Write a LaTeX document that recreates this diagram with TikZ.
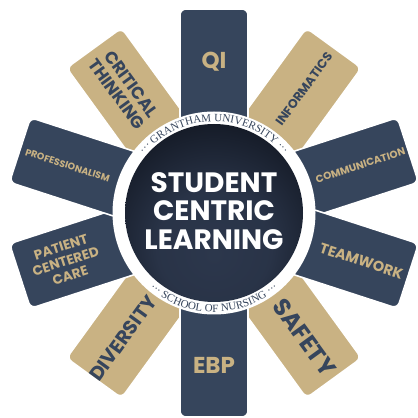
\documentclass[tikz,border=0pt]{standalone}
\usepackage{fontspec}
\setmainfont{Poppins}
\newfontfamily\ringfont{Liberation Serif}
\usetikzlibrary{calc,decorations.text}
\definecolor{navy}{HTML}{36455C}
\definecolor{tan}{HTML}{C9B283}
\definecolor{cmid}{HTML}{2C374C}
\definecolor{cdark}{HTML}{070A11}
\pgfdeclareradialshading{ballshade}{\pgfpoint{0bp}{-12bp}}{color(0bp)=(cmid); color(16bp)=(cmid!92!cdark); color(44bp)=(cdark); color(80bp)=(cdark)}
\tikzset{
  petal/.style={draw=white, line width=1.6pt, rounded corners=6pt, minimum width=114pt, minimum height=68pt, inner sep=0pt},
  navypetal/.style={petal, fill=navy},
  tanpetal/.style={petal, fill=tan},
  navylab/.style={text=tan, font=\bfseries, align=center, inner sep=0pt},
  tanlab/.style={text=navy, font=\bfseries, align=center, inner sep=0pt},
  ringtext/.style={decorate, decoration={text along path, text align=center, text color=navy,
    text={|\ringfont\fontsize{11}{11}\selectfont|#1}}},
}
\begin{document}
\begin{tikzpicture}[x=1pt,y=1pt]
\useasboundingbox (0,0) rectangle (418,418);
\coordinate (C) at (214,205);
% petals
\node[tanpetal, rotate=126] (pCT) at ($(C)+(126:147)$) {};
\node[tanpetal, rotate=54] (pIN) at ($(C)+(54:147)$) {};
\node[tanpetal, rotate=-54] (pSA) at ($(C)+(-54:147)$) {};
\node[tanpetal, rotate=-126] (pDI) at ($(C)+(-126:147)$) {};
\node[navypetal, rotate=90] (pQI) at ($(C)+(90:147)$) {};
\node[navypetal, rotate=18] (pCO) at ($(C)+(18:147)$) {};
\node[navypetal, rotate=-18] (pTE) at ($(C)+(-18:147)$) {};
\node[navypetal, rotate=-90] (pEB) at ($(C)+(-90:147)$) {};
\node[navypetal, rotate=-162] (pPC) at ($(C)+(-162:147)$) {};
\node[navypetal, rotate=162] (pPR) at ($(C)+(162:147)$) {};
% labels
\node[navylab, font=\bfseries\fontsize{23}{23}\selectfont] (tQI) at ($(C)+(90:151)$) {QI};
\node[tanlab, rotate=54, font=\bfseries\fontsize{12.5}{13}\selectfont] (tIN) at ($(C)+(54:153)$) {INFORMATICS};
\node[navylab, rotate=18, font=\bfseries\fontsize{10.3}{11}\selectfont] (tCO) at ($(C)+(18:154)$) {COMMUNICATION};
\node[navylab, rotate=-18, font=\bfseries\fontsize{14.5}{15}\selectfont] (tTE) at ($(C)+(-18:155)$) {TEAMWORK};
\node[tanlab, rotate=-54, font=\bfseries\fontsize{24}{24}\selectfont] (tSA) at ($(C)+(-54:154)$) {SAFETY};
\node[navylab, font=\bfseries\fontsize{23}{23}\selectfont] (tEB) at ($(C)+(-90:152)$) {EBP};
\node[tanlab, rotate=54, font=\bfseries\fontsize{19.5}{20}\selectfont] (tDI) at ($(C)+(-126:155)$) {DIVERSITY};
\node[navylab, rotate=18, font=\bfseries\fontsize{13.5}{15}\selectfont] (tPC) at ($(C)+(-162:156)$) {PATIENT\\CENTERED\\CARE};
\node[navylab, rotate=-18, font=\bfseries\fontsize{9.5}{10}\selectfont] (tPR) at ($(C)+(162:154)$) {PROFESSIONALISM};
\node[tanlab, rotate=-54, font=\bfseries\fontsize{17}{17.5}\selectfont] (tCT) at ($(C)+(126:153)$) {CRITICAL\\THINKING};
% ring
\node[circle, fill=white, minimum size=203pt, inner sep=0pt] (ring) at (C) {};
\node[circle, shading=ballshade, minimum size=178pt, inner sep=0pt] (hub) at (C) {};
\node[text=white, font=\bfseries\fontsize{28}{28.5}\selectfont, align=center] (title) at ($(C)+(0,2)$) {STUDENT\\CENTRIC\\LEARNING};
\path[ringtext={··· GRANTHAM UNIVERSITY ···}]
  ($(C)+(180:91.5)$) arc[start angle=180, end angle=0, radius=91.5];
\path[ringtext={··· SCHOOL OF NURSING ···}]
  ($(C)+(180:99)$) arc[start angle=180, end angle=360, radius=99];
\end{tikzpicture}
\end{document}
